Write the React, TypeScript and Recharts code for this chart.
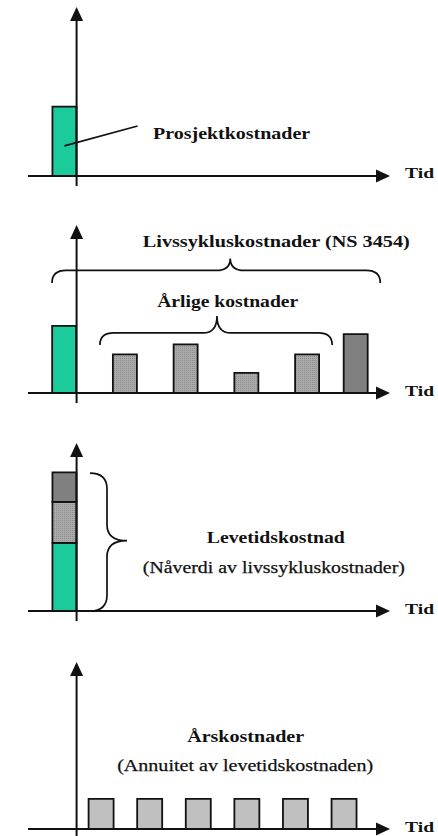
import React from 'react';
import { BarChart, Bar, XAxis, YAxis, ReferenceLine, ReferenceDot, Cell } from 'recharts';

// ---------- data ----------
const TIME_DOMAIN: [number, number] = [-1, 6.45];
const COST_DOMAIN: [number, number] = [-0.6, 10];

// Panel 1: project cost
const projectTimes = [-0.25];
const projectCosts = [4.1];

// Panel 2: life cycle costs
const lifeTimes = [-0.25, 1.0, 2.25, 3.5, 4.75, 5.75];
const lifeCosts = [4.0, 2.3, 2.9, 1.2, 2.3, 3.5];
const lifeKinds = ['project', 'annual', 'annual', 'annual', 'annual', 'final'];

// Panel 3: present value (stacked)
const pvTimes = [-0.25];
const pvProject = [4.05];
const pvAnnual = [2.45];
const pvFinal = [1.75];

// Panel 4: annuity
const annuityTimes = [0.5, 1.5, 2.5, 3.5, 4.5, 5.5];
const annuityCosts = [1.8, 1.8, 1.8, 1.8, 1.8, 1.8];

const labels = {
  p1: 'Prosjektkostnader',
  p2a: 'Livssykluskostnader (NS 3454)',
  p2b: 'Årlige kostnader',
  p3a: 'Levetidskostnad',
  p3b: '(Nåverdi av livssykluskostnader)',
  p4a: 'Årskostnader',
  p4b: '(Annuitet av levetidskostnaden)',
  axis: 'Tid',
};

const COLORS: Record<string, string> = {
  project: '#1ccb9b',
  annual: 'url(#dots)',
  final: '#808080',
  annuity: '#c0c0c0',
};

const INK = '#111';
const FONT = '"Liberation Serif", "Times New Roman", serif';

// ---------- shapes ----------
const ArrowLine = (p: any) => {
  const { x1, y1, x2, y2 } = p;
  const dx = x2 - x1;
  const dy = y2 - y1;
  const len = Math.hypot(dx, dy) || 1;
  const ux = dx / len;
  const uy = dy / len;
  const L = 14;
  const W = 6.5;
  const bx = x2 - ux * L;
  const by = y2 - uy * L;
  const nx = -uy;
  const ny = ux;
  return (
    <g>
      <line x1={x1} y1={y1} x2={bx + ux} y2={by + uy} stroke={INK} strokeWidth={2} />
      <polygon
        points={`${x2},${y2} ${bx + nx * W},${by + ny * W} ${bx - nx * W},${by - ny * W}`}
        fill={INK}
      />
    </g>
  );
};

const PlainLine = (p: any) => (
  <line x1={p.x1} y1={p.y1} x2={p.x2} y2={p.y2} stroke={INK} strokeWidth={1.7} />
);

const makeBrace = (d1: number, d2: number, frac: number, r: number) => (p: any) => {
  const { x1, y1, x2, y2 } = p;
  const dx = x2 - x1;
  const dy = y2 - y1;
  const L = Math.hypot(dx, dy) || 1;
  const ux = dx / L;
  const uy = dy / L;
  const nx = uy;
  const ny = -ux;
  const P = (s: number, d: number) => `${x1 + ux * s + nx * d},${y1 + uy * s + ny * d}`;
  const m = L * frac;
  const path = [
    `M ${P(0, 0)}`,
    `Q ${P(0, d1)} ${P(r, d1)}`,
    `L ${P(m - r, d1)}`,
    `Q ${P(m, d1)} ${P(m, d1 + d2)}`,
    `Q ${P(m, d1)} ${P(m + r, d1)}`,
    `L ${P(L - r, d1)}`,
    `Q ${P(L, d1)} ${P(L, 0)}`,
  ].join(' ');
  return <path d={path} fill="none" stroke={INK} strokeWidth={1.7} />;
};

const makeText = (text: string, w: number, size: number, bold: boolean) => (p: any) => (
  <text
    x={p.cx}
    y={p.cy}
    textAnchor="middle"
    textLength={w}
    lengthAdjust="spacingAndGlyphs"
    fontFamily={FONT}
    fontSize={size}
    fontWeight={bold ? 700 : 400}
    fill={INK}
    stroke={bold ? 'none' : INK}
    strokeWidth={bold ? 0 : 0.25}
  >
    {text}
  </text>
);

const axes = (key: string, tidV: number) => [
  <ReferenceLine
    key={key + 'x'}
    segment={[{ x: TIME_DOMAIN[0], y: 0 }, { x: TIME_DOMAIN[1], y: 0 }]}
    ifOverflow="visible"
    shape={ArrowLine}
  />,
  <ReferenceLine
    key={key + 'y'}
    segment={[{ x: 0, y: COST_DOMAIN[0] }, { x: 0, y: COST_DOMAIN[1] }]}
    ifOverflow="visible"
    shape={ArrowLine}
  />,
  <ReferenceDot
    key={key + 't'}
    x={7.06}
    y={tidV}
    r={0}
    ifOverflow="visible"
    shape={makeText(labels.axis, 29, 15, true)}
  />,
];

const panelAxes = () => [
  <XAxis key="xa" type="number" dataKey="t" domain={TIME_DOMAIN} hide allowDataOverflow />,
  <YAxis key="ya" type="number" domain={COST_DOMAIN} hide allowDataOverflow />,
];

const projectData = projectTimes.map((t, i) => ({ t, cost: projectCosts[i] }));
const lifeData = lifeTimes.map((t, i) => ({ t, cost: lifeCosts[i], kind: lifeKinds[i] }));
const pvData = pvTimes.map((t, i) => ({ t, project: pvProject[i], annual: pvAnnual[i], final: pvFinal[i] }));
const annuityData = annuityTimes.map((t, i) => ({ t, cost: annuityCosts[i] }));

const W = 438;
const ML = 28;
const MR = 48;
const BAR_STROKE = 1.8;

export default function App() {
  return (
    <div
      style={{
        position: 'absolute',
        left: 0,
        top: 0,
        width: 438,
        height: 836,
        overflow: 'hidden',
        background: '#fff',
      }}
    >
      <svg width={0} height={0} style={{ position: 'absolute' }}>
        <defs>
          <pattern id="dots" x={0} y={0} width={2} height={2} patternUnits="userSpaceOnUse">
            <rect x={0} y={0} width={2} height={2} fill="#aaaaaa" />
            <rect x={0} y={0} width={1} height={1} fill="#8e8e8e" />
          </pattern>
        </defs>
      </svg>

      {/* Panel 1 */}
      <div style={{ position: 'absolute', left: 0, top: 0 }}>
        <BarChart width={W} height={210} data={projectData} margin={{ top: 7, right: MR, bottom: 23.9, left: ML }}>
          {panelAxes()}
          <Bar dataKey="cost" barSize={24} fill={COLORS.project} stroke={INK} strokeWidth={BAR_STROKE} isAnimationActive={false} />
          {axes('p1', -0.12)}
          <ReferenceLine
            segment={[{ x: -0.25, y: 1.78 }, { x: 1.255, y: 2.96 }]}
            ifOverflow="visible"
            shape={PlainLine}
          />
          <ReferenceDot x={3.19} y={2.19} r={0} ifOverflow="visible" shape={makeText(labels.p1, 157, 17, true)} />
        </BarChart>
      </div>

      {/* Panel 2 */}
      <div style={{ position: 'absolute', left: 0, top: 210 }}>
        <BarChart width={W} height={210} data={lifeData} margin={{ top: 15, right: MR, bottom: 16.9, left: ML }}>
          {panelAxes()}
          <Bar dataKey="cost" barSize={24} stroke={INK} strokeWidth={BAR_STROKE} isAnimationActive={false}>
            {lifeData.map((d, i) => (
              <Cell key={i} fill={COLORS[d.kind]} />
            ))}
          </Bar>
          {axes('p2', -0.18)}
          <ReferenceLine
            segment={[{ x: -0.506, y: 6.55 }, { x: 6.25, y: 6.55 }]}
            ifOverflow="visible"
            shape={makeBrace(12.5, 12, 0.543, 14)}
          />
          <ReferenceLine
            segment={[{ x: 0.48, y: 2.86 }, { x: 5.26, y: 2.86 }]}
            ifOverflow="visible"
            shape={makeBrace(12, 17, 0.504, 14)}
          />
          <ReferenceDot x={4.11} y={8.69} r={0} ifOverflow="visible" shape={makeText(labels.p2a, 267, 17, true)} />
          <ReferenceDot x={3.11} y={5.12} r={0} ifOverflow="visible" shape={makeText(labels.p2b, 141, 17, true)} />
        </BarChart>
      </div>

      {/* Panel 3 */}
      <div style={{ position: 'absolute', left: 0, top: 420 }}>
        <BarChart width={W} height={210} data={pvData} margin={{ top: 23, right: MR, bottom: 8.9, left: ML }}>
          {panelAxes()}
          <Bar dataKey="project" stackId="s" barSize={24} fill={COLORS.project} stroke={INK} strokeWidth={BAR_STROKE} isAnimationActive={false} />
          <Bar dataKey="annual" stackId="s" barSize={24} fill={COLORS.annual} stroke={INK} strokeWidth={BAR_STROKE} isAnimationActive={false} />
          <Bar dataKey="final" stackId="s" barSize={24} fill={COLORS.final} stroke={INK} strokeWidth={BAR_STROKE} isAnimationActive={false} />
          {axes('p3', -0.18)}
          <ReferenceLine
            segment={[{ x: 0.276, y: 8.21 }, { x: 0.276, y: 0 }]}
            ifOverflow="visible"
            shape={makeBrace(17, 20, 0.49, 16)}
          />
          <ReferenceDot x={4.1} y={4.05} r={0} ifOverflow="visible" shape={makeText(labels.p3a, 138, 17, true)} />
          <ReferenceDot x={4.06} y={2.26} r={0} ifOverflow="visible" shape={makeText(labels.p3b, 262, 16.5, false)} />
        </BarChart>
      </div>

      {/* Panel 4 */}
      <div style={{ position: 'absolute', left: 0, top: 630 }}>
        <BarChart width={W} height={215} data={annuityData} margin={{ top: 32, right: MR, bottom: 6, left: ML }}>
          {panelAxes()}
          <Bar dataKey="cost" barSize={25} fill={COLORS.annuity} stroke={INK} strokeWidth={BAR_STROKE} isAnimationActive={false} />
          {axes('p4', -0.18)}
          <ReferenceDot x={3.48} y={5.21} r={0} ifOverflow="visible" shape={makeText(labels.p4a, 117, 17, true)} />
          <ReferenceDot x={3.47} y={3.47} r={0} ifOverflow="visible" shape={makeText(labels.p4b, 256, 16.5, false)} />
        </BarChart>
      </div>
    </div>
  );
}
